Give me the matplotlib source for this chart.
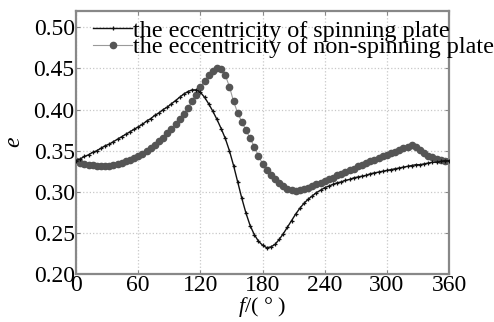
import numpy as np
import matplotlib
matplotlib.use("Agg")
import matplotlib.pyplot as plt

plt.rcParams['font.family'] = ['Liberation Serif', 'DejaVu Serif']
plt.rcParams['mathtext.fontset'] = 'custom'
plt.rcParams['mathtext.rm'] = 'Liberation Serif'
plt.rcParams['mathtext.it'] = 'Liberation Serif:italic'

f_deg = list(range(0, 361, 4))

e_spinning = [
    0.338, 0.340, 0.343, 0.345, 0.348, 0.350, 0.353, 0.356, 0.358, 0.361,
    0.364, 0.367, 0.370, 0.373, 0.376, 0.379, 0.382, 0.386, 0.389, 0.393,
    0.396, 0.400, 0.403, 0.407, 0.411, 0.415, 0.419, 0.422, 0.424, 0.424,
    0.421, 0.415, 0.407, 0.398, 0.388, 0.377, 0.365, 0.350, 0.332, 0.312,
    0.292, 0.274, 0.259, 0.248, 0.240, 0.235, 0.232, 0.233, 0.236, 0.242,
    0.249, 0.257, 0.265, 0.273, 0.280, 0.286, 0.291, 0.295, 0.299, 0.302,
    0.305, 0.307, 0.309, 0.311, 0.312, 0.314, 0.315, 0.317, 0.318, 0.319,
    0.320, 0.322, 0.323, 0.324, 0.325, 0.326, 0.327, 0.328, 0.329, 0.330,
    0.331, 0.332, 0.333, 0.333, 0.334, 0.335, 0.336, 0.336, 0.337, 0.338,
    0.338,
]

e_nonspinning = [
    0.337, 0.335, 0.334, 0.333, 0.333, 0.332, 0.332, 0.332, 0.332, 0.333,
    0.334, 0.335, 0.337, 0.339, 0.341, 0.343, 0.346, 0.350, 0.353, 0.357,
    0.362, 0.366, 0.371, 0.376, 0.382, 0.388, 0.395, 0.402, 0.410, 0.418,
    0.427, 0.435, 0.442, 0.447, 0.450, 0.449, 0.442, 0.428, 0.410, 0.396,
    0.385, 0.375, 0.365, 0.355, 0.344, 0.334, 0.327, 0.321, 0.316, 0.311,
    0.307, 0.304, 0.302, 0.301, 0.302, 0.303, 0.305, 0.307, 0.309, 0.311,
    0.313, 0.315, 0.317, 0.320, 0.322, 0.324, 0.326, 0.328, 0.331, 0.333,
    0.335, 0.337, 0.339, 0.341, 0.343, 0.345, 0.347, 0.349, 0.351, 0.353,
    0.355, 0.357, 0.355, 0.351, 0.347, 0.344, 0.342, 0.340, 0.339, 0.338,
    0.338,
]

x_ticks = [0, 60, 120, 180, 240, 300, 360]
y_ticks = [0.20, 0.25, 0.30, 0.35, 0.40, 0.45, 0.50]
labels = ["the eccentricity of spinning plate",
          "the eccentricity of non-spinning plate"]

fig = plt.figure(figsize=(4.94, 3.22), dpi=100)
ax = fig.add_axes([0.154, 0.149, 0.755, 0.817])

ax.plot(f_deg, e_spinning, color='#111111', lw=1.0, marker='+',
        ms=3, mew=0.9, label=labels[0], zorder=3)
ax.plot(f_deg, e_nonspinning, color='#9a9a9a', lw=0.8, marker='o',
        ms=4.5, mfc='#555555', mec='#555555', label=labels[1], zorder=2)

ax.set_xlim(0, 360)
ax.set_ylim(0.20, 0.52)
ax.set_xticks(x_ticks)
ax.set_yticks(y_ticks)
ax.set_yticklabels([f"{v:.2f}" for v in y_ticks])
ax.tick_params(direction='in', length=3, width=0.8, color='#888888',
               labelsize=17, pad=1, right=True, top=True)
ax.grid(True, color='#c8c8c8', linestyle=':', linewidth=0.9)
for s in ax.spines.values():
    s.set_color('#888888')
    s.set_linewidth(1.6)

ax.set_xlabel(r"$f$/( $\degree$ )", fontsize=16, labelpad=-1)
ax.set_ylabel(r"$e$", fontsize=17, labelpad=6)

leg = ax.legend(loc='upper left', bbox_to_anchor=(0.04, 0.975), frameon=False,
                fontsize=17.4, handlelength=1.6, handletextpad=0.05,
                labelspacing=-0.23, borderaxespad=0, borderpad=0.1)

fig.savefig("out.png", dpi=100)
